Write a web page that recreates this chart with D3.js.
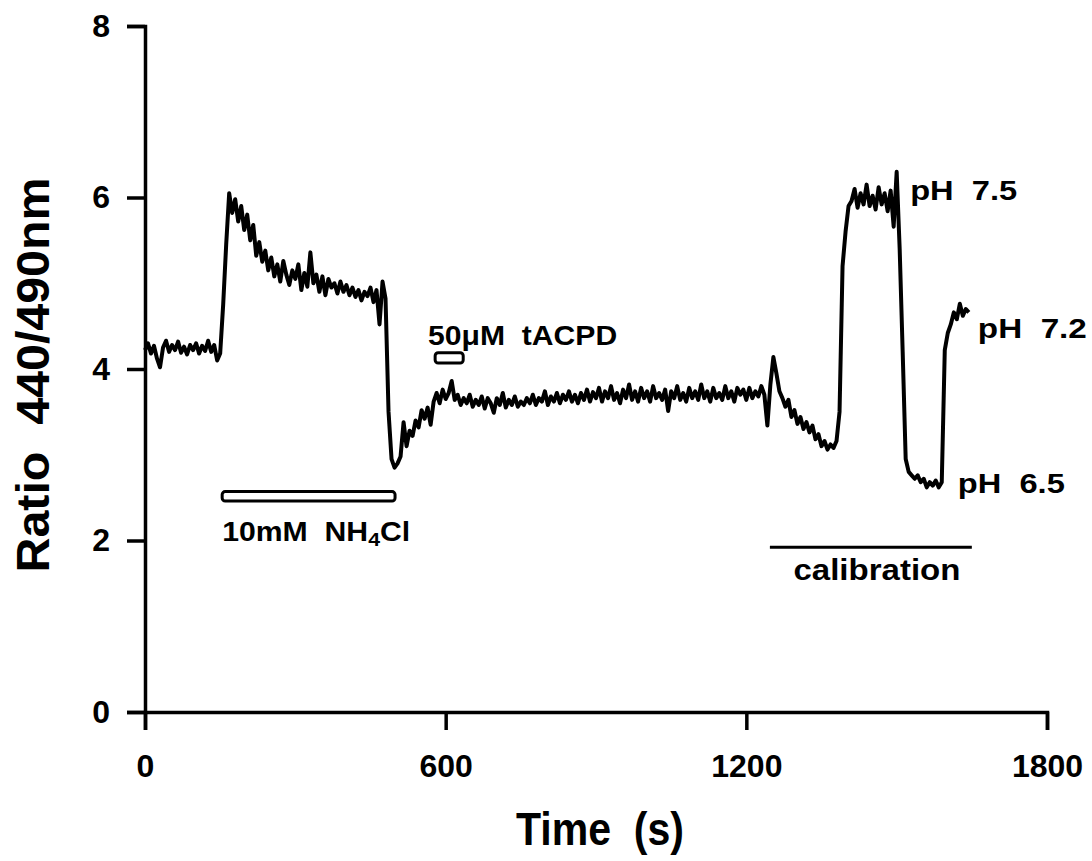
<!DOCTYPE html>
<html>
<head>
<meta charset="utf-8">
<script src="https://cdn.jsdelivr.net/npm/d3@7"></script>
<style>
  body { margin: 0; background: #fff; }
  svg text { font-family: "Liberation Sans", Arial, sans-serif; font-weight: bold; fill: #000; white-space: pre; }
</style>
</head>
<body>
<div class="chart"></div>
<script>
var svgWidth = 1092;
var svgHeight = 861;

// sampling interval of the trace (s)
var sampleStep = 6;

// 440/490 ratio, one value every 6 s starting at t = 0
var ratio = [
    4.22, 4.30, 4.18, 4.27, 4.12, 4.02, 4.25, 4.33, 4.20, 4.28,
    4.22, 4.32, 4.19, 4.26, 4.17, 4.28, 4.22, 4.30, 4.18, 4.27,
    4.21, 4.33, 4.20, 4.28, 4.10, 4.18, 4.75, 5.45, 6.05, 5.82,
    5.98, 5.72, 5.90, 5.62, 5.80, 5.50, 5.68, 5.32, 5.48, 5.25,
    5.38, 5.15, 5.30, 5.08, 5.22, 5.02, 5.26, 5.10, 4.98, 5.15,
    5.05, 5.22, 4.92, 5.12, 4.96, 5.36, 5.00, 5.10, 4.90, 5.08,
    4.86, 5.05, 4.95, 5.00, 4.88, 5.02, 4.90, 4.98, 4.86, 4.95,
    4.84, 4.92, 4.80, 4.90, 4.85, 4.95, 4.78, 4.92, 4.52, 5.02,
    4.82, 3.50, 2.95, 2.85, 2.90, 2.98, 3.38, 3.10, 3.28, 3.22,
    3.40, 3.32, 3.52, 3.42, 3.55, 3.35, 3.62, 3.72, 3.60, 3.76,
    3.65, 3.72, 3.86, 3.64, 3.70, 3.58, 3.66, 3.60, 3.70, 3.56,
    3.64, 3.58, 3.68, 3.54, 3.66, 3.60, 3.49, 3.66, 3.58, 3.72,
    3.55, 3.64, 3.58, 3.68, 3.56, 3.62, 3.58, 3.66, 3.60, 3.70,
    3.58, 3.66, 3.62, 3.74, 3.58, 3.68, 3.62, 3.72, 3.60, 3.70,
    3.64, 3.74, 3.62, 3.70, 3.60, 3.72, 3.64, 3.76, 3.62, 3.73,
    3.66, 3.78, 3.62, 3.74, 3.66, 3.80, 3.64, 3.72, 3.60, 3.76,
    3.66, 3.82, 3.64, 3.74, 3.62, 3.78, 3.66, 3.74, 3.62, 3.80,
    3.66, 3.72, 3.64, 3.76, 3.51, 3.74, 3.66, 3.80, 3.64, 3.72,
    3.62, 3.78, 3.66, 3.74, 3.64, 3.82, 3.66, 3.74, 3.62, 3.78,
    3.66, 3.72, 3.64, 3.80, 3.66, 3.74, 3.62, 3.78, 3.70, 3.76,
    3.64, 3.78, 3.66, 3.74, 3.68, 3.80, 3.70, 3.34, 3.82, 4.14,
    3.95, 3.74, 3.66, 3.56, 3.64, 3.44, 3.52, 3.36, 3.44, 3.30,
    3.38, 3.26, 3.34, 3.18, 3.24, 3.10, 3.16, 3.06, 3.12, 3.08,
    3.16, 3.50, 5.20, 5.60, 5.90, 5.96, 6.10, 5.88, 6.05, 5.92,
    6.15, 5.90, 6.02, 5.86, 6.12, 5.92, 6.05, 5.84, 6.08, 5.66,
    6.30, 5.40, 4.20, 2.95, 2.80, 2.76, 2.72, 2.76, 2.68, 2.72,
    2.62, 2.68, 2.64, 2.70, 2.62, 2.68, 4.22, 4.42, 4.52, 4.66,
    4.58, 4.76, 4.62, 4.70, 4.66
];

var xTicks = [0, 600, 1200, 1800];
var yTicks = [0, 2, 4, 6, 8];

// application bars: [start s, end s, low ratio, high ratio]
var nh4clBar = [154, 499, 2.46, 2.57];
var tacpdBar = [579, 635, 4.07, 4.19];
// calibration period: [start s, end s, ratio level]
var calibLine = [1247, 1650, 1.92];

var x = d3.scaleLinear().domain([0, 1800]).range([145, 1047]);
var y = d3.scaleLinear().domain([0, 8]).range([712, 26]);

var svg = d3.select('.chart').append('svg')
    .attr('width', svgWidth).attr('height', svgHeight);

// axes
var xAxis = svg.append('g')
    .attr('transform', 'translate(0,' + y(0) + ')')
    .call(d3.axisBottom(x).tickValues(xTicks).tickFormat(d3.format('d'))
        .tickSize(18).tickPadding(24));
var yAxis = svg.append('g')
    .attr('transform', 'translate(' + x(0) + ',0)')
    .call(d3.axisLeft(y).tickValues(yTicks).tickFormat(d3.format('d'))
        .tickSize(18).tickPadding(17));

[xAxis, yAxis].forEach(function(ax) {
    ax.selectAll('path, line').attr('stroke', '#000').attr('stroke-width', 3.5);
    ax.selectAll('text').attr('font-size', 32).attr('fill', '#000')
        .style('font-family', '"Liberation Sans", Arial, sans-serif')
        .style('font-weight', 'bold');
});

// trace
var line = d3.line()
    .x(function(d, i) { return x(i * sampleStep); })
    .y(function(d) { return y(d); });

svg.append('path')
    .datum(ratio)
    .attr('d', line)
    .attr('fill', 'none')
    .attr('stroke', '#000')
    .attr('stroke-width', 4)
    .attr('stroke-linejoin', 'round');

// drug bars
[nh4clBar, tacpdBar].forEach(function(b) {
    svg.append('rect')
        .attr('x', x(b[0]))
        .attr('y', y(b[3]))
        .attr('width', x(b[1]) - x(b[0]))
        .attr('height', y(b[2]) - y(b[3]))
        .attr('rx', 3)
        .attr('fill', '#fff')
        .attr('stroke', '#000')
        .attr('stroke-width', 3);
});

svg.append('line')
    .attr('x1', x(calibLine[0])).attr('x2', x(calibLine[1]))
    .attr('y1', y(calibLine[2])).attr('y2', y(calibLine[2]))
    .attr('stroke', '#000').attr('stroke-width', 3);

// labels: text, t, ratio, font size, width
var labels = [
    ['50\u03bcM  tACPD', 565, 4.28, 28, 189],
    ['pH  7.5', 1527, 5.97, 28, 107],
    ['pH  7.2', 1662, 4.36, 28, 109],
    ['pH  6.5', 1622, 2.55, 28, 107],
    ['calibration', 1294, 1.54, 30, 167]
];

labels.forEach(function(l) {
    svg.append('text')
        .attr('x', x(l[1]))
        .attr('y', y(l[2]))
        .attr('font-size', l[3])
        .attr('textLength', l[4])
        .attr('lengthAdjust', 'spacingAndGlyphs')
        .text(l[0]);
});

var nh = svg.append('text')
    .attr('x', x(154))
    .attr('y', y(2.0))
    .attr('font-size', 27)
    .attr('textLength', 188)
    .attr('lengthAdjust', 'spacingAndGlyphs');
nh.append('tspan').text('10mM  NH');
nh.append('tspan').attr('dy', 5).attr('font-size', 19).text('4');
nh.append('tspan').attr('dy', -5).text('Cl');

// axis titles
svg.append('text')
    .attr('x', 600)
    .attr('y', 845)
    .attr('text-anchor', 'middle')
    .attr('font-size', 46)
    .attr('textLength', 168)
    .attr('lengthAdjust', 'spacingAndGlyphs')
    .text('Time  (s)');

svg.append('text')
    .attr('transform', 'translate(49,375) rotate(-90)')
    .attr('text-anchor', 'middle')
    .attr('font-size', 46)
    .attr('textLength', 395)
    .attr('lengthAdjust', 'spacingAndGlyphs')
    .text('Ratio  440/490nm');
</script>
</body>
</html>
